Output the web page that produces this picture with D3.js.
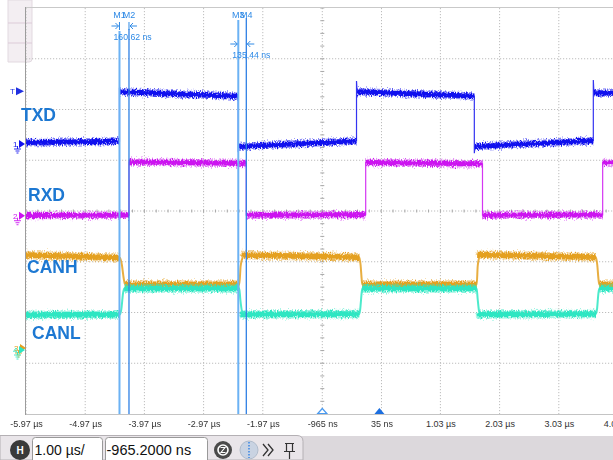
<!DOCTYPE html>
<html><head><meta charset="utf-8">
<script src="https://cdn.jsdelivr.net/npm/d3@7"></script>
<style>
html,body{margin:0;padding:0;background:#fff;}
svg{display:block;}
text{font-family:"Liberation Sans",Arial,sans-serif;}
</style></head><body>
<svg id="scope" width="613" height="460"></svg>
<script>
// ---- Timebase: tick times (µs) and their labels ----
const tickTimes = [-5.97, -4.97, -3.97, -2.97, -1.97, -0.965, 0.035, 1.03, 2.03, 3.03, 4.03];
const tickLabels = ["-5.97 µs", "-4.97 µs", "-3.97 µs", "-2.97 µs", "-1.97 µs", "-965 ns", "35 ns", "1.03 µs", "2.03 µs", "3.03 µs", "4.03 µs"];

// ---- Channel names ----
const channelNames = ["TXD", "RXD", "CANH", "CANL"];

// ---- Trace samples: time in µs, level in volts ----
const txdTime  = [-5.97, -4.391, -4.391, -4.381, -2.384, -2.384, -2.374, -0.387, -0.387, -0.377, 1.603, 1.603, 1.613, 3.613, 3.613, 3.623, 4.03];
const txdVolts = [0.13, 0.27, 5.55, 5.15, 4.70, -0.8, -0.25, 0.30, 6.2, 5.15, 4.72, -0.9, -0.25, 0.33, 6.3, 5.05, 4.98];

const rxdTime  = [-5.97, -4.230, -4.230, -2.249, -2.249, -0.232, -0.232, 1.741, 1.741, 3.771, 3.771, 4.03];
const rxdVolts = [0.02, 0.05, 5.30, 5.15, 0.05, 0.10, 5.25, 5.10, 0.05, 0.08, 5.25, 5.22];

const canhTime  = [-5.97, -4.382, -4.350, -4.318, -4.298, -2.367, -2.345, -2.310, -2.283, -0.340, -0.318, -0.300, -0.289, 1.643, 1.660, 1.685, 1.699, 3.658, 3.680, 3.700, 3.714, 4.03];
const canhVolts = [3.74, 3.64, 3.35, 2.80, 2.58, 2.58, 3.30, 3.65, 3.74, 3.66, 3.35, 2.80, 2.58, 2.58, 3.30, 3.65, 3.75, 3.66, 3.35, 2.80, 2.58, 2.58];

const canlTime  = [-5.97, -4.382, -4.360, -4.330, -4.310, -2.367, -2.350, -2.320, -2.300, -0.340, -0.325, -0.300, -0.289, 1.643, 1.660, 1.685, 1.699, 3.658, 3.675, 3.700, 3.714, 4.03];
const canlVolts = [1.38, 1.40, 1.60, 2.25, 2.42, 2.42, 2.00, 1.50, 1.40, 1.42, 1.60, 2.25, 2.42, 2.42, 2.00, 1.50, 1.40, 1.42, 1.60, 2.25, 2.42, 2.42];

// ---- Vertical setup per channel: volts per division, ground offset in divisions ----
const voltsPerDiv = [5, 5, 2, 2];
const groundDiv = [1.32, -0.093, -2.739, -2.739];
const triggerVolts = 5.2;

// ---- Cursors: start time (µs) of each pair and the measured delta (ns) ----
const cursorNames = [["M1", "M2"], ["M3", "M4"]];
const cursorStart = [-4.391, -2.384];
const cursorDeltaNs = [160.62, 135.44];

// ---- Trigger point and horizontal delay (µs), toolbar readouts ----
const triggerTime = 0;
const delayTime = -0.9652;
const timebaseText = "1.00 µs/";
const delayText = "-965.2000 ns";

// ================= drawing =================
const W = 613, H = 460;
const svg = d3.select("#scope");
const x = d3.scaleLinear().domain([-5.97, 4.03]).range([26, 618]);
const yDiv = d3.scaleLinear().domain([-4, 4]).range([414, 8]);
const chY = (ch, v) => yDiv(groundDiv[ch] + v / voltsPerDiv[ch]);

const traceColor = ["#1010ee", "#cc14f0", "#e4a020", "#2de6c2"];
const labelColor = "#1d78d2";
const cursorColor = "#2f8ae6";

const defs = svg.append("defs");
const clip = defs.append("clipPath").attr("id", "plotClip");
clip.append("rect").attr("x", 26).attr("y", 8).attr("width", W - 26).attr("height", 406);

// Noise filters: vertical-only jitter so plateaus look like sampled, noisy bands
[11, 27, 43, 59].forEach((seed, i) => {
  const f = defs.append("filter").attr("id", "noise" + i)
    .attr("filterUnits", "userSpaceOnUse").attr("x", 0).attr("y", 0)
    .attr("width", W).attr("height", H)
    .attr("color-interpolation-filters", "sRGB");
  f.append("feTurbulence").attr("type", "fractalNoise")
    .attr("baseFrequency", "1.2 0.5").attr("numOctaves", 2).attr("seed", seed).attr("result", "t");
  f.append("feColorMatrix").attr("in", "t").attr("type", "matrix")
    .attr("values", "0 0 0 0 0.5  0 1 0 0 0  0 0 0 0 0  0 0 0 0 1").attr("result", "m");
  f.append("feDisplacementMap").attr("in", "SourceGraphic").attr("in2", "m")
    .attr("scale", 7).attr("xChannelSelector", "R").attr("yChannelSelector", "G");
});

// Settings panel tab in the upper-left corner
svg.append("path")
  .attr("d", "M8,0 H32 V59 Q32,62 29,62 H8 Z")
  .attr("fill", "#f3eef2").attr("stroke", "#e2d9e0");
[23, 43].forEach(yy => svg.append("line").attr("x1", 8).attr("x2", 32).attr("y1", yy).attr("y2", yy)
  .attr("stroke", "#dccbd8"));

// Grid
const grid = svg.append("g");
tickTimes.forEach(t => grid.append("line")
  .attr("x1", x(t)).attr("x2", x(t)).attr("y1", 8).attr("y2", 414)
  .attr("stroke", "#bdbdbd").attr("stroke-dasharray", "1.2,1.8"));
d3.range(-3, 4).forEach(d => grid.append("line")
  .attr("x1", 26).attr("x2", W).attr("y1", yDiv(d)).attr("y2", yDiv(d))
  .attr("stroke", "#bdbdbd").attr("stroke-dasharray", "1.2,1.8"));
// Centre axes with minor ticks
const cx = x(delayTime), cy = yDiv(0);
d3.range(-4, 4.01, 0.25).forEach(d => grid.append("line")
  .attr("x1", cx - 2).attr("x2", cx + 2).attr("y1", yDiv(d)).attr("y2", yDiv(d))
  .attr("stroke", "#a8a8a8"));
d3.range(-5.97, 4.03, 0.2).forEach(t => grid.append("line")
  .attr("x1", x(t)).attr("x2", x(t)).attr("y1", cy - 1.5).attr("y2", cy + 1.5)
  .attr("stroke", "#a8a8a8"));
// Frame
svg.append("line").attr("x1", 25.5).attr("x2", W).attr("y1", 7.5).attr("y2", 7.5).attr("stroke", "#c9c9c9");
svg.append("line").attr("x1", 25.5).attr("x2", W).attr("y1", 414.5).attr("y2", 414.5).attr("stroke", "#c4c4c4");
svg.append("line").attr("x1", 25.5).attr("x2", 25.5).attr("y1", 7).attr("y2", 415).attr("stroke", "#9c9c9c");

// Traces
const series = [
  [txdTime, txdVolts], [rxdTime, rxdVolts], [canhTime, canhVolts], [canlTime, canlVolts]
];
const traces = svg.append("g").attr("clip-path", "url(#plotClip)");

function plateauRuns(pts) {
  const out = []; let cur = [pts[0]];
  for (let i = 1; i < pts.length; i++) {
    const dx = pts[i][0] - pts[i - 1][0], dy = pts[i][1] - pts[i - 1][1];
    if (Math.abs(dy) > 2 * Math.abs(dx) + 1) { if (cur.length > 1) out.push(cur); cur = [pts[i]]; }
    else cur.push(pts[i]);
  }
  if (cur.length > 1) out.push(cur);
  return out;
}

series.forEach(([ts, vs], ch) => {
  const pts = ts.map((t, i) => [x(t), chY(ch, vs[i])]);
  const g = traces.append("g");
  const edgeLine = d3.line().curve(ch >= 2 ? d3.curveMonotoneX : d3.curveLinear);
  g.append("path").attr("d", edgeLine(pts)).attr("fill", "none")
    .attr("stroke", traceColor[ch]).attr("stroke-width", ch >= 2 ? 2 : 1.2).attr("opacity", 0.85);
  const band = g.append("g").attr("filter", `url(#noise${ch})`);
  plateauRuns(pts).forEach(run => {
    band.append("path")
      .attr("d", d3.line()(run)).attr("fill", "none")
      .attr("stroke", traceColor[ch]).attr("stroke-width", ch >= 2 ? 8.5 : 7.5).attr("opacity", 0.45);
    band.append("path")
      .attr("d", d3.line()(run)).attr("fill", "none")
      .attr("stroke", traceColor[ch]).attr("stroke-width", ch >= 2 ? 5.5 : 4.8);
  });
});

// Channel labels
const labelPos = [[21, 121], [28, 201], [27, 273], [32, 339]];
channelNames.forEach((n, i) => svg.append("text")
  .attr("x", labelPos[i][0]).attr("y", labelPos[i][1]).text(n)
  .attr("font-family", "'Open Sans',sans-serif").attr("font-weight", 700)
  .attr("font-size", 17.5).attr("fill", labelColor));

// Channel ground markers and trigger marker on the left edge
function groundMark(y, num, color, dx) {
  const g = svg.append("g").attr("transform", `translate(${dx},0)`);
  g.append("text").attr("x", 13).attr("y", y + 3).text(num)
    .attr("font-size", 8).attr("fill", color);
  g.append("path").attr("d", `M19,${y - 4} L25,${y} L19,${y + 4} Z`).attr("fill", color);
  g.append("path").attr("d", `M14,${y + 5} H21 M15.5,${y + 7} H19.5 M16.5,${y + 9} H18.5 M17.5,${y + 2} V${y + 5}`)
    .attr("stroke", color).attr("stroke-width", 0.9).attr("fill", "none");
}
groundMark(chY(0, 0), "1", traceColor[0], 0);
groundMark(chY(1, 0), "2", traceColor[1], 0);
groundMark(chY(2, 0) - 2, "3", traceColor[2], 1);
groundMark(chY(3, 0), "4", traceColor[3], 0);
const ty = chY(0, triggerVolts);
svg.append("text").attr("x", 10).attr("y", ty + 3).text("T").attr("font-size", 8).attr("fill", "#2030e0");
svg.append("path").attr("d", `M16,${ty - 4} L24,${ty} L16,${ty + 4} Z`).attr("fill", "#2030e0");

// Trigger (solid) and delay (hollow) indicators on the bottom edge
svg.append("path").attr("d", `M${x(triggerTime) - 5},414 L${x(triggerTime)},408 L${x(triggerTime) + 5},414 Z`)
  .attr("fill", "#1c6fe0");
svg.append("path").attr("d", `M${x(delayTime) - 4.5},413.5 L${x(delayTime)},408.5 L${x(delayTime) + 4.5},413.5 Z`)
  .attr("fill", "#fff").attr("stroke", "#4a9af0").attr("stroke-width", 1.2);

// Cursors
const cursorCfg = [{ top: 31, arrowY: 26, textY: 40, bars: true }, { top: 20, arrowY: 44, textY: 58, bars: false }];
cursorStart.forEach((t0, k) => {
  const t1 = t0 + cursorDeltaNs[k] / 1000;
  const xa = x(t0), xb = x(t1), c = cursorCfg[k];
  svg.append("line").attr("x1", xa).attr("x2", xa).attr("y1", c.top).attr("y2", 414)
    .attr("stroke", "#6cb2f4").attr("stroke-width", 2);
  svg.append("line").attr("x1", xb).attr("x2", xb).attr("y1", c.top - 2).attr("y2", 414)
    .attr("stroke", "#2f80e4").attr("stroke-width", 1.3);
  svg.append("text").attr("x", xa).attr("y", 18).attr("text-anchor", "middle").text(cursorNames[k][0])
    .attr("font-size", 9).attr("fill", cursorColor);
  svg.append("text").attr("x", xb).attr("y", 18).attr("text-anchor", "middle").text(cursorNames[k][1])
    .attr("font-size", 9).attr("fill", cursorColor);
  const ay = c.arrowY;
  let d = `M${xa - 8},${ay} H${xa - 1} M${xa - 4},${ay - 3} L${xa - 1},${ay} L${xa - 4},${ay + 3}` +
          `M${xb + 8},${ay} H${xb + 1} M${xb + 4},${ay - 3} L${xb + 1},${ay} L${xb + 4},${ay + 3}`;
  if (c.bars) d += `M${xa},${ay - 4} V${ay + 4} M${xb},${ay - 4} V${ay + 4}`;
  svg.append("path").attr("d", d).attr("stroke", cursorColor).attr("fill", "none").attr("stroke-width", 1);
  svg.append("text").attr("x", xa - 6).attr("y", c.textY).text(cursorDeltaNs[k].toFixed(2) + " ns")
    .attr("font-size", 8.7).attr("fill", cursorColor);
});

// Time axis labels
const axis = d3.axisBottom(x).tickValues(tickTimes).tickFormat((d, i) => tickLabels[i]).tickSize(0).tickPadding(0);
const ag = svg.append("g").attr("transform", "translate(0,421)").call(axis);
ag.select(".domain").remove();
ag.selectAll("text").attr("font-size", 9).attr("fill", "#333")
  .attr("font-family", "'Liberation Sans',Arial,sans-serif").attr("dy", "0.72em");

// Bottom toolbar
svg.append("rect").attr("x", 0).attr("y", 436).attr("width", W).attr("height", 24).attr("fill", "#dcd8dc");
svg.append("path").attr("d", "M0,435.5 H297 Q303,435.5 303,441.5 V460 H0 Z")
  .attr("fill", "#e9e5e9").attr("stroke", "#b4b0b4");
svg.append("circle").attr("cx", 20).attr("cy", 450).attr("r", 10).attr("fill", "#3a3a3a");
svg.append("text").attr("x", 20).attr("y", 454).attr("text-anchor", "middle").text("H")
  .attr("font-size", 10).attr("font-weight", 700).attr("fill", "#fff");
svg.append("rect").attr("x", 32.5).attr("y", 437.5).attr("width", 70).attr("height", 26).attr("rx", 3)
  .attr("fill", "#fff").attr("stroke", "#999");
svg.append("rect").attr("x", 105.5).attr("y", 437.5).attr("width", 102).attr("height", 26).attr("rx", 3)
  .attr("fill", "#fff").attr("stroke", "#999");
svg.append("text").attr("x", 34.5).attr("y", 454.5).text(timebaseText).attr("font-size", 14).attr("fill", "#111");
svg.append("text").attr("x", 106.5).attr("y", 454.5).text(delayText).attr("font-size", 14.5).attr("fill", "#111");
// zoom icon
svg.append("circle").attr("cx", 223).attr("cy", 450).attr("r", 9).attr("fill", "#4a4a4a");
svg.append("circle").attr("cx", 223).attr("cy", 450).attr("r", 5).attr("fill", "none").attr("stroke", "#fff").attr("stroke-width", 1.6);
svg.append("path").attr("d", "M220.5,447.5 H225 L221,452.5 H225.5").attr("stroke", "#fff").attr("fill", "none").attr("stroke-width", 1.1);
// marker icon
svg.append("circle").attr("cx", 249).attr("cy", 450).attr("r", 9).attr("fill", "#c9d3e2").attr("stroke", "#b0bccc");
svg.append("line").attr("x1", 249).attr("x2", 249).attr("y1", 442).attr("y2", 458)
  .attr("stroke", "#2f80e4").attr("stroke-width", 1.4).attr("stroke-dasharray", "1.5,1.5");
// more / pin icons
svg.append("path").attr("d", "M263,444 L268,450 L263,456 M268,444 L273,450 L268,456")
  .attr("stroke", "#333").attr("fill", "none").attr("stroke-width", 1.3);
svg.append("path").attr("d", "M285,443.5 H294 M286.5,443.5 V451.5 H292.5 V443.5 M284,451.5 H295 M289.5,451.5 V459")
  .attr("stroke", "#333").attr("fill", "none").attr("stroke-width", 1.2);
</script>
</body></html>
